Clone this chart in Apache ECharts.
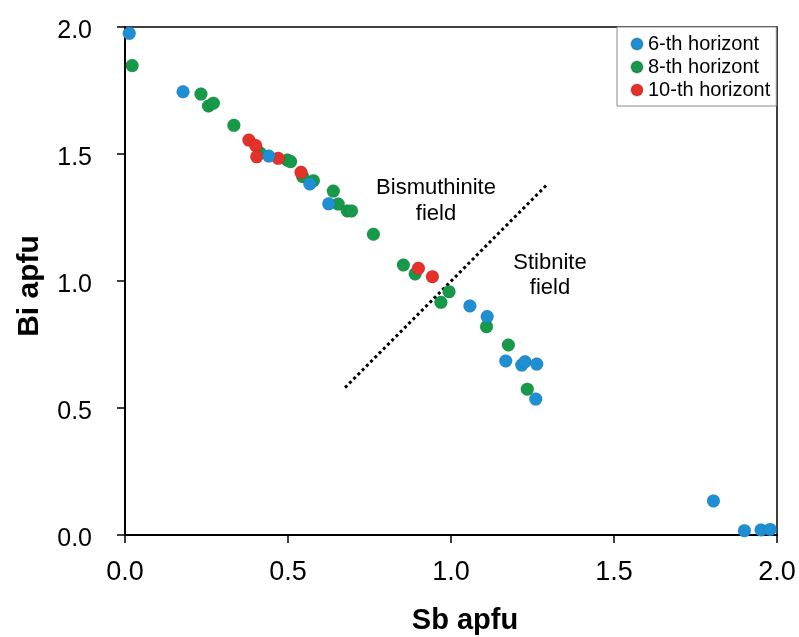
<!DOCTYPE html>
<html>
<head>
<meta charset="utf-8">
<script src="https://cdn.jsdelivr.net/npm/echarts@6/dist/echarts.min.js"></script>
<style>html,body{margin:0;padding:0;background:#fff}#c{width:799px;height:637px}</style>
</head>
<body>
<div id="c"></div>
<script>
const seriesNames = ['6-th horizont', '8-th horizont', '10-th horizont'];
const h6 = [[0.013,1.975],[0.178,1.745],[0.441,1.492],[0.567,1.382],[0.625,1.304],[1.058,0.902],[1.111,0.860],[1.168,0.685],[1.217,0.669],[1.227,0.682],[1.263,0.673],[1.260,0.535],[1.805,0.134],[1.900,0.017],[1.951,0.020],[1.979,0.022]];
const h8 = [[0.022,1.848],[0.233,1.736],[0.256,1.689],[0.271,1.700],[0.334,1.613],[0.414,1.505],[0.498,1.476],[0.508,1.470],[0.545,1.411],[0.578,1.395],[0.639,1.354],[0.654,1.303],[0.682,1.276],[0.695,1.276],[0.762,1.184],[0.854,1.063],[0.890,1.028],[0.969,0.916],[0.994,0.958],[1.109,0.820],[1.176,0.748],[1.234,0.574]];
const h10 = [[0.380,1.555],[0.401,1.533],[0.404,1.489],[0.470,1.483],[0.540,1.428],[0.900,1.050],[0.943,1.017]];
const boundary = [[0.675,0.58],[1.295,1.38]];
const xTicks = [0, 0.5, 1.0, 1.5, 2.0];
const yTicks = [0, 0.5, 1.0, 1.5, 2.0];
const colors = ['#1f8fd4', '#17994a', '#e5312a'];
const FONT = '"Liberation Sans", Arial, Helvetica, sans-serif';

const chart = echarts.init(document.getElementById('c'));
function mk(name, data, color, z) {
  return {
    name, type: 'scatter', data, symbol: 'circle', symbolSize: 13, z,
    itemStyle: { color, opacity: 1, borderColor: 'rgba(0,0,0,0.15)', borderWidth: 0.6 }
  };
}
chart.setOption({
  animation: false,
  backgroundColor: '#fff',
  textStyle: { fontFamily: FONT },
  grid: { left: 125, right: 22, top: 27, bottom: 102, show: true, borderColor: '#000', borderWidth: 1.5, backgroundColor: 'transparent' },
  xAxis: {
    type: 'value', min: xTicks[0], max: xTicks[xTicks.length-1], interval: 0.5,
    splitLine: { show: false },
    axisLine: { onZero: false, lineStyle: { color: '#000', width: 2 } },
    axisTick: { length: 8, inside: false, lineStyle: { color: '#000', width: 1.5 } },
    axisLabel: { color: '#000', fontSize: 27, fontFamily: FONT, margin: 24, formatter: v => v.toFixed(1) }
  },
  yAxis: {
    type: 'value', min: yTicks[0], max: yTicks[yTicks.length-1], interval: 0.5,
    splitLine: { show: false },
    axisLine: { onZero: false, lineStyle: { color: '#000', width: 2 } },
    axisTick: { length: 8, inside: false, lineStyle: { color: '#000', width: 1.5 } },
    axisLabel: { color: '#000', fontSize: 25, fontFamily: FONT, margin: 33, verticalAlign: 'top', lineHeight: 8, formatter: v => v.toFixed(1) }
  },
  legend: {
    data: seriesNames,
    orient: 'vertical', left: 617, top: 27,
    padding: [7, 6, 6, 13],
    itemWidth: 12, itemHeight: 12, itemGap: 3,
    icon: 'circle',
    backgroundColor: '#fff', borderColor: '#8a8a8a', borderWidth: 1,
    textStyle: { color: '#000', fontSize: 20, lineHeight: 20, fontFamily: FONT },
    z: 10
  },
  series: [
    mk(seriesNames[0], h6, colors[0], 4),
    mk(seriesNames[1], h8, colors[1], 2),
    mk(seriesNames[2], h10, colors[2], 3),
    {
      name: 'boundary', type: 'line', data: boundary, symbol: 'none', silent: true, z: 1,
      lineStyle: { color: '#000', width: 3, type: [3, 3] }
    }
  ],
  graphic: [
    { type: 'text', x: 436, y: 201, style: { text: 'Bismuthinite\nfield', font: '22px ' + FONT, fill: '#000', align: 'center', verticalAlign: 'middle', lineHeight: 26 } },
    { type: 'text', x: 550, y: 275, style: { text: 'Stibnite\nfield', font: '22px ' + FONT, fill: '#000', align: 'center', verticalAlign: 'middle', lineHeight: 25 } },
    { type: 'text', x: 465, y: 621, style: { text: 'Sb apfu', font: 'bold 29px ' + FONT, fill: '#000', align: 'center', verticalAlign: 'middle' } },
    { type: 'text', x: 30, y: 286, rotation: Math.PI / 2, style: { text: 'Bi apfu', font: 'bold 30px ' + FONT, fill: '#000', align: 'center', verticalAlign: 'middle' } }
  ]
});
</script>
</body>
</html>
